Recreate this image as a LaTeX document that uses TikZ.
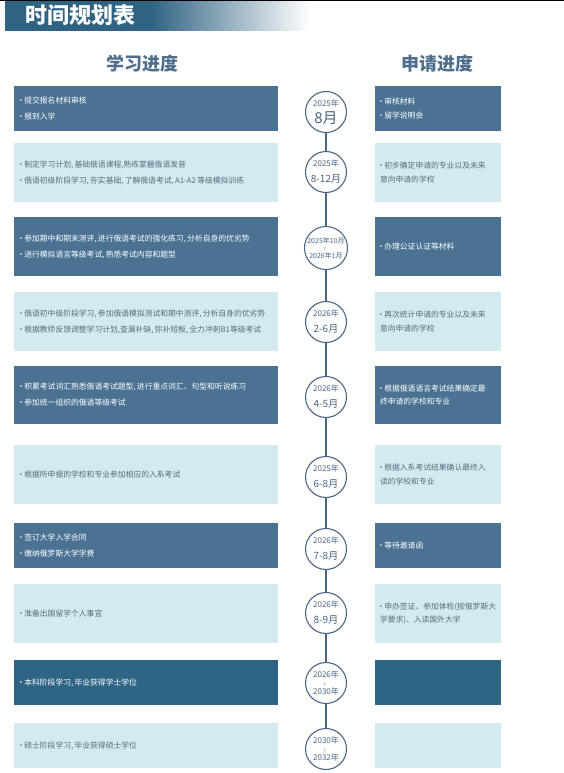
\documentclass[tikz,border=0pt]{standalone}
\usepackage{fontspec}
\setmainfont{Noto Sans CJK SC}
\usepackage{graphicx}
\definecolor{bardark}{HTML}{2E6382}
\definecolor{boxdark}{HTML}{4B7292}
\definecolor{boxdeep}{HTML}{2F6584}
\definecolor{boxlight}{HTML}{D3EAF0}
\definecolor{headcol}{HTML}{4E6E8B}
\definecolor{ringcol}{HTML}{4A6683}
\definecolor{greytext}{HTML}{5A6D7D}
\tikzset{
  lbox/.style={text width=252pt, inner xsep=6pt, inner ysep=0pt, align=left,
    font=\fontsize{7.8}{16}\selectfont},
  rbox/.style={text width=116pt, inner xsep=5pt, inner ysep=0pt, align=left,
    font=\fontsize{7.8}{13.5}\selectfont},
  darkfill/.style={fill=boxdark, text=white},
  lightfill/.style={fill=boxlight, text=greytext},
  ring/.style={circle, draw=ringcol, line width=1.1pt, fill=white, minimum size=41pt,
    inner sep=0pt, text=ringcol, align=center, font=\fontsize{8}{16}\selectfont},
  spine/.style={draw=ringcol, line width=1.4pt},
}
\newcommand{\li}[1]{\mbox{\kern-3pt·\kern-0.5pt #1}}
\newcommand{\monthfont}{\fontsize{10}{10}\selectfont}
\newcommand{\wavemark}{\rotatebox{90}{\fontsize{6.5}{6.5}\selectfont\textasciitilde}}
\begin{document}
\begin{tikzpicture}[x=1pt, y=-1pt]
  \useasboundingbox (0,0) rectangle (564,773);
  % 标题栏
  \fill[bardark] (5,0) rectangle (150,31);
  \shade[left color=bardark, right color=white] (150,0) rectangle (310,31);
  \draw[line width=1pt] (0,0.5) -- (564,0.5);
  \node[text=white, font=\fontsize{22}{22}\selectfont\bfseries] (title) at (80,15.5) {时间规划表};
  \node[text=headcol, font=\fontsize{18}{18}\selectfont\bfseries] (hleft) at (142,64) {学习进度};
  \node[text=headcol, font=\fontsize{18}{18}\selectfont\bfseries] (hright) at (437,64) {申请进度};
  % 1
  \node[lbox, darkfill, minimum height=45pt] (l1) at (146,108.5) {\li{提交报名材料审核}\\\li{报到入学}};
  \node[rbox, darkfill, minimum height=45pt] (r1) at (438,108.5) {\li{审核材料}\\\li{留学说明会}};
  \node[ring] (c1) at (326,112) {2025年\\[1pt]{\fontsize{15}{15}\selectfont 8月}};
  % 2
  \node[lbox, lightfill, minimum height=59pt] (l2) at (146,172.5) {\li{制定学习计划,\,基础俄语课程,熟练掌握俄语发音}\\\li{俄语初级阶段学习,\,夯实基础,\,了解俄语考试,\,A1-A2\,等级模拟训练}};
  \node[rbox, lightfill, minimum height=59pt] (r2) at (438,172.5) {\li{初步确定申请的专业以及未来}\\意向申请的学校};
  \node[ring] (c2) at (326,172) {2025年\\{\monthfont 8-12月}};
  % 3
  \node[lbox, darkfill, minimum height=59pt] (l3) at (146,246.5) {\li{参加期中和期末测评,\,进行俄语考试的强化练习,\,分析自身的优劣势}\\\li{进行模拟语言等级考试,\,熟悉考试内容和题型}};
  \node[rbox, darkfill, minimum height=59pt] (r3) at (438,246.5) {\li{办理公证认证等材料}};
  \node[ring, font=\fontsize{7}{7.5}\selectfont] (c3) at (326,248) {2025年10月\\\wavemark\\2026年1月};
  % 4
  \node[lbox, lightfill, minimum height=59pt] (l4) at (146,321.5) {\li{俄语初中级阶段学习,\,参加俄语模拟测试和期中测评,\,分析自身的优劣势}\\\li{根据教师反馈调整学习计划,查漏补缺,\,弥补短板,\,全力冲刺B1等级考试}};
  \node[rbox, lightfill, minimum height=59pt] (r4) at (438,321.5) {\li{再次统计申请的专业以及未来}\\意向申请的学校};
  \node[ring] (c4) at (326,322) {2026年\\{\monthfont 2-6月}};
  % 5
  \node[lbox, darkfill, minimum height=58pt] (l5) at (146,395) {\li{积累考试词汇熟悉俄语考试题型,\,进行重点词汇、句型和听说练习}\\\li{参加统一组织的俄语等级考试}};
  \node[rbox, darkfill, minimum height=58pt] (r5) at (438,395) {\li{根据俄语语言考试结果确定最}\\终申请的学校和专业};
  \node[ring] (c5) at (326,397) {2026年\\{\monthfont 4-5月}};
  % 6
  \node[lbox, lightfill, minimum height=59pt] (l6) at (146,474.5) {\li{根据所申报的学校和专业参加相应的入系考试}};
  \node[rbox, lightfill, minimum height=59pt] (r6) at (438,474.5) {\li{根据入系考试结果确认最终入}\\读的学校和专业};
  \node[ring] (c6) at (326,477) {2025年\\{\monthfont 6-8月}};
  % 7
  \node[lbox, darkfill, minimum height=45pt] (l7) at (146,545.5) {\li{签订大学入学合同}\\\li{缴纳俄罗斯大学学费}};
  \node[rbox, darkfill, minimum height=45pt] (r7) at (438,545.5) {\li{等待邀请函}};
  \node[ring] (c7) at (326,549) {2026年\\{\monthfont 7-8月}};
  % 8
  \node[lbox, lightfill, minimum height=59pt] (l8) at (146,613.5) {\li{准备出国留学个人事宜}};
  \node[rbox, lightfill, minimum height=59pt] (r8) at (438,613.5) {\li{申办签证、参加体检(按俄罗斯大}\\学要求)、入读国外大学};
  \node[ring] (c8) at (326,613) {2026年\\{\monthfont 8-9月}};
  % 9
  \node[lbox, fill=boxdeep, text=white, minimum height=45pt] (l9) at (146,682.5) {\li{本科阶段学习,\,毕业获得学士学位}};
  \node[rbox, fill=boxdeep, minimum height=45pt] (r9) at (438,682.5) {};
  \node[ring, font=\fontsize{8}{8.5}\selectfont] (c9) at (326,683) {2026年\\\wavemark\\2030年};
  % 10
  \node[lbox, lightfill, minimum height=45pt] (l10) at (146,745.5) {\li{硕士阶段学习,\,毕业获得硕士学位}};
  \node[rbox, lightfill, minimum height=45pt] (r10) at (438,745.5) {};
  \node[ring, font=\fontsize{8}{8.5}\selectfont] (c10) at (326,749) {2030年\\\wavemark\\2032年};
  % 时间轴
  \draw[spine] (c1) -- (c2) (c2) -- (c3) (c3) -- (c4) (c4) -- (c5) (c5) -- (c6)
    (c6) -- (c7) (c7) -- (c8) (c8) -- (c9) (c9) -- (c10);
\end{tikzpicture}
\end{document}
